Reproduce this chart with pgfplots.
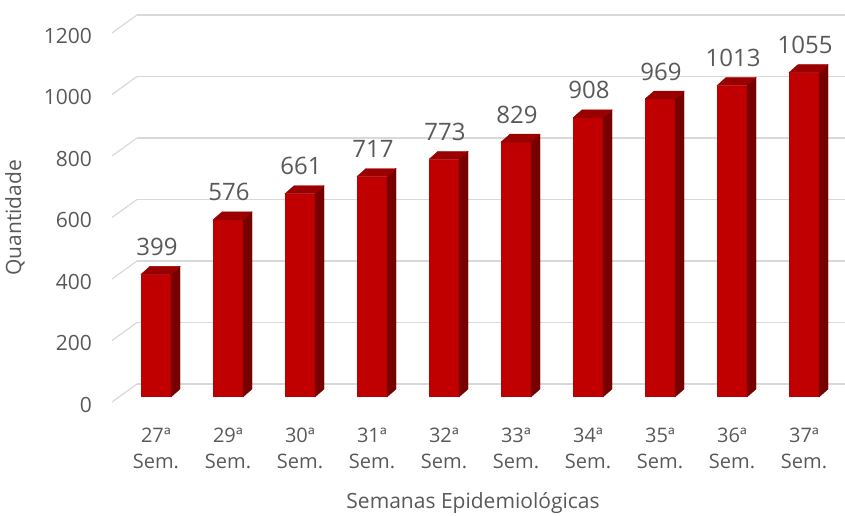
\documentclass[border=0pt]{standalone}
\usepackage{pgfplots}
\pgfplotsset{compat=1.18}
\usepackage{pgfplotstable}
\usepackage{fontspec}
\setmainfont{Open Sans}
\definecolor{txt}{HTML}{595959}
\definecolor{gridc}{HTML}{D9D9D9}
\definecolor{frontred}{HTML}{C00000}
\definecolor{topred}{HTML}{9A0000}
\definecolor{sidered}{HTML}{760000}

\pgfplotstableread{
x v
0 399
1 576
2 661
3 717
4 773
5 829
6 908
7 969
8 1013
9 1055
}\datatab

\pgfdeclareplotmark{box3d}{%
  \pgfmathsetmacro\hh{\val*0.3075}%
  \pgfmathsetmacro\hb{8-\hh}%
  \pgfmathsetmacro\hc{-\hh}%
  \fill[sidered] (15pt,0pt) -- (24pt,8pt) -- (24pt,\hb pt) -- (15pt,\hc pt) -- cycle;
  \fill[topred] (-15pt,0pt) -- (15pt,0pt) -- (24pt,8pt) -- (-6pt,8pt) -- cycle;
}

\begin{document}
\begin{tikzpicture}
\useasboundingbox (0,0) rectangle (845pt,516pt);
\begin{axis}[
  at={(137pt,132pt)}, anchor=south west,
  scale only axis,
  width=708pt, height=369pt,
  xmin=-0.514, xmax=9.319,
  ymin=0, ymax=1200,
  axis line style={draw=none},
  major tick length=0pt,
  ytick={0,200,...,1200},
  xtick={0,...,9},
  xticklabels={{27ª\\Sem.},{29ª\\Sem.},{30ª\\Sem.},{31ª\\Sem.},{32ª\\Sem.},{33ª\\Sem.},{34ª\\Sem.},{35ª\\Sem.},{36ª\\Sem.},{37ª\\Sem.}},
  ymajorgrids,
  major grid style={gridc, line width=1.2pt},
  /pgf/number format/assume math mode=true,
  /pgf/number format/1000 sep={},
  yticklabel style={font=\fontsize{21}{25}\selectfont, text=txt, anchor=east, inner sep=0pt, xshift=-45pt, yshift=-20.5pt},
  xticklabel style={font=\fontsize{20}{26}\selectfont, text=txt, align=center, inner sep=0pt, anchor=north, xshift=-18pt, yshift=-44pt},
  xlabel={Semanas Epidemiológicas},
  ylabel={Quantidade},
  xlabel style={font=\fontsize{21}{25}\selectfont, text=txt, at={(axis description cs:0.4746,0)}, anchor=center, yshift=-119pt},
  ylabel style={font=\fontsize{21}{25}\selectfont, text=txt, at={(axis description cs:-0.1723,0.45)}, anchor=center},
  clip=false,
]
\pgfplotsinvokeforeach{0,200,...,1200}{
  \draw[gridc, line width=1.2pt] (axis cs:-0.514,#1) -- ([xshift=-25pt,yshift=-18pt]axis cs:-0.514,#1);
}
\addplot[ybar, bar width=30pt, fill=frontred, draw=none, xshift=-18pt, yshift=-13pt,
  nodes near coords,
  every node near coord/.append style={font=\fontsize{24}{28}\selectfont, text=txt, anchor=base, yshift=19pt, xshift=1pt, inner sep=0pt},
] table[x=x, y=v] {\datatab};
\addplot[only marks, mark=box3d, xshift=-18pt, yshift=-13pt,
  visualization depends on={rawy \as \val},
] table[x=x, y=v] {\datatab};
\end{axis}
\end{tikzpicture}
\end{document}
